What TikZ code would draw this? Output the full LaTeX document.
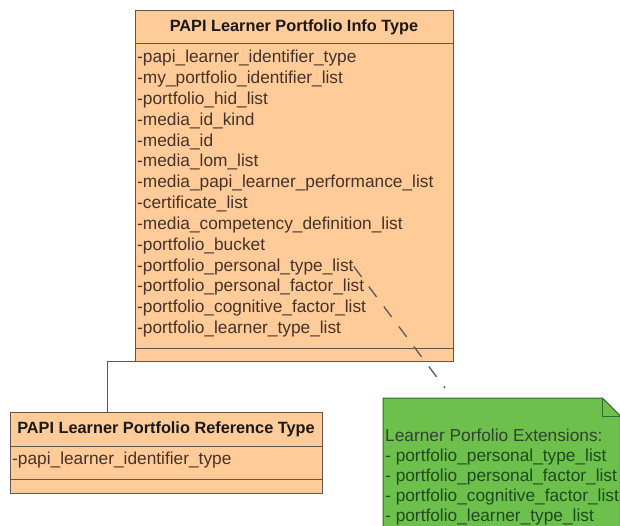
\documentclass[tikz,border=0pt]{standalone}
\usepackage{fontspec}
\setmainfont{Liberation Sans}

\definecolor{classfill}{RGB}{255,204,153}
\definecolor{classline}{RGB}{100,85,75}
\definecolor{attrtext}{RGB}{70,50,40}
\definecolor{notefill}{RGB}{110,192,76}
\definecolor{noteline}{RGB}{45,110,45}
\definecolor{notetext}{RGB}{30,75,30}
\definecolor{notehead}{RGB}{50,65,50}

\begin{document}
\begin{tikzpicture}[x=1pt, y=-1pt]

\tikzstyle{compartment} = [rectangle, draw=classline, fill=classfill, line width=1pt, inner sep=0pt]
\tikzstyle{class_title} = [font=\fontsize{16.3}{20}\selectfont\bfseries, text=black!90]
\tikzstyle{attribute} = [anchor=base west, inner sep=0pt, font=\fontsize{17.3}{20.8}\selectfont, text=attrtext]
\tikzstyle{note_line} = [anchor=base west, inner sep=0pt, font=\fontsize{17.3}{20.8}\selectfont, text=notetext]
\tikzstyle{note_box} = [draw=noteline, fill=notefill, line width=1pt]
\tikzstyle{link} = [draw=classline, line width=1pt]
\tikzstyle{note_link} = [draw=black!65, line width=1.3pt, dash pattern=on 13pt off 12pt]

\clip (0,0) rectangle (620,526);

%------------------------------------------------------------
	\node[compartment, class_title, minimum width=318pt, minimum height=33pt] (info_title) at (294,27.5) {PAPI Learner Portfolio Info Type};
	\node[compartment, minimum width=318pt, minimum height=304pt] (info_attrs) at (294,196) {};
	\node[compartment, minimum width=318pt, minimum height=13pt] (info_ops) at (294,354.5) {};

	\node[attribute] (ia1)  at (137,63)    {-papi\_learner\_identifier\_type};
	\node[attribute] (ia2)  at (137,83.8)  {-my\_portfolio\_identifier\_list};
	\node[attribute] (ia3)  at (137,104.6) {-portfolio\_hid\_list};
	\node[attribute] (ia4)  at (137,125.4) {-media\_id\_kind};
	\node[attribute] (ia5)  at (137,146.2) {-media\_id};
	\node[attribute] (ia6)  at (137,167)   {-media\_lom\_list};
	\node[attribute] (ia7)  at (137,187.8) {-media\_papi\_learner\_performance\_list};
	\node[attribute] (ia8)  at (137,208.6) {-certificate\_list};
	\node[attribute] (ia9)  at (137,229.4) {-media\_competency\_definition\_list};
	\node[attribute] (ia10) at (137,250.2) {-portfolio\_bucket};
	\node[attribute] (ia11) at (137,271)   {-portfolio\_personal\_type\_list};
	\node[attribute] (ia12) at (137,291.8) {-portfolio\_personal\_factor\_list};
	\node[attribute] (ia13) at (137,312.6) {-portfolio\_cognitive\_factor\_list};
	\node[attribute] (ia14) at (137,333.4) {-portfolio\_learner\_type\_list};

%------------------------------------------------------------
	\node[compartment, class_title, minimum width=312pt, minimum height=34pt] (ref_title) at (166,429) {PAPI Learner Portfolio Reference Type};
	\node[compartment, minimum width=312pt, minimum height=33pt] (ref_attrs) at (166,462.5) {};
	\node[compartment, minimum width=312pt, minimum height=14pt] (ref_ops) at (166,486) {};

	\node[attribute] (ra1) at (12,464) {-papi\_learner\_identifier\_type};

	\draw[link] ([xshift=-59pt]ref_title.north) |- (info_ops.south west);

%------------------------------------------------------------
	\node[minimum width=237pt, minimum height=135pt, anchor=north west, inner sep=0pt] (ext_note) at (383,398) {};
	\draw[note_box] (ext_note.north west) -- ([xshift=-18pt]ext_note.north east) -- ([yshift=-18pt]ext_note.north east) -- (ext_note.south east) -- (ext_note.south west) -- cycle;
	\draw[note_box, fill=none] ([xshift=-18pt]ext_note.north east) |- ([yshift=-18pt]ext_note.north east);

	\node[note_line, text=notehead] (ext_head) at (385,441) {Learner Porfolio Extensions:};
	\node[note_line] (ext1) at (385,461) {- portfolio\_personal\_type\_list};
	\node[note_line] (ext2) at (385,481) {- portfolio\_personal\_factor\_list};
	\node[note_line] (ext3) at (385,501) {- portfolio\_cognitive\_factor\_list};
	\node[note_line] (ext4) at (385,521) {- portfolio\_learner\_type\_list};

	\coordinate (note_end) at (445,388);
	\draw[note_link] (ia11.east) -- (note_end);

\end{tikzpicture}
\end{document}
